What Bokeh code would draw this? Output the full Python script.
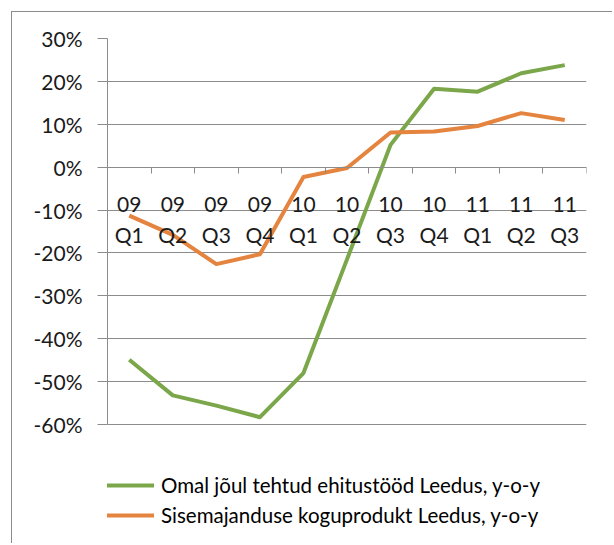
from bokeh.plotting import figure
from bokeh.models import Legend, LegendItem, FixedTicker, Range1d, CustomJSTickFormatter
from bokeh.embed import file_html
from bokeh.resources import INLINE

# ---- data ----
years = ["09", "09", "09", "09", "10", "10", "10", "10", "11", "11", "11"]
quarters = ["Q1", "Q2", "Q3", "Q4", "Q1", "Q2", "Q3", "Q4", "Q1", "Q2", "Q3"]
construction = [-44.9, -53.2, -55.6, -58.3, -48.0, -21.5, 5.2, 18.3, 17.6, 21.9, 23.8]
gdp = [-11.3, -15.8, -22.6, -20.3, -2.3, -0.2, 8.1, 8.3, 9.6, 12.6, 11.0]
y_ticks = [-60, -50, -40, -30, -20, -10, 0, 10, 20, 30]
series_names = ["Omal jõul tehtud ehitustööd Leedus, y-o-y",
                "Sisemajanduse koguprodukt Leedus, y-o-y"]

GREEN = "#7BA74A"
ORANGE = "#E4843F"
GRID = "#8C8C8C"
FONT = "Lato"

n = len(quarters)
xs = [i + 0.5 for i in range(n)]

# layout constants (canvas pixels)
W, H = 601, 532
TOP, LEFT, RIGHT = 26, 95, 27
AXIS_H = 386          # pixel height of the -60..30 value span
frame_h = H - TOP     # frame extends to the bottom so the legend is not clipped
y_lo, y_hi = y_ticks[0], y_ticks[-1]
y_start = y_lo - (frame_h - AXIS_H) / AXIS_H * (y_hi - y_lo)

p = figure(width=W, height=H,
           x_range=Range1d(0, n), y_range=Range1d(y_start, y_hi),
           output_backend="svg", toolbar_location=None,
           min_border_left=LEFT, min_border_right=RIGHT, min_border_top=TOP, min_border_bottom=0,
           margin=(11, 0, 0, 11),
           styles={"border-top": "1px solid #8C8C8C", "border-left": "1px solid #8C8C8C"})
p.outline_line_color = None
p.background_fill_color = "white"
p.border_fill_color = "white"

r1 = p.line(xs, construction, line_width=4, line_color=GREEN, line_join="round")
r2 = p.line(xs, gdp, line_width=4, line_color=ORANGE, line_join="round")

# y axis
p.yaxis.ticker = FixedTicker(ticks=y_ticks)
p.yaxis.bounds = (y_lo, y_hi)
p.yaxis.formatter = CustomJSTickFormatter(code="return tick.toFixed(0) + '%';")
p.yaxis.axis_line_color = GRID
p.yaxis.major_tick_line_color = GRID
p.yaxis.major_tick_out = 10
p.yaxis.major_tick_in = 0
p.yaxis.minor_tick_line_color = None
p.yaxis.major_label_standoff = 15
p.yaxis.major_label_text_font = FONT
p.yaxis.major_label_text_font_size = "21px"
p.yaxis.major_label_text_color = "#1a1a1a"

# x axis at zero
p.xaxis.fixed_location = 0
p.xaxis.ticker = FixedTicker(ticks=xs, minor_ticks=list(range(n + 1)))
p.xaxis.major_label_overrides = {x: f"{y}\n{q}" for x, y, q in zip(xs, years, quarters)}
p.xaxis.axis_line_color = GRID
p.xaxis.major_tick_line_color = None
p.xaxis.major_tick_out = 0
p.xaxis.major_tick_in = 0
p.xaxis.minor_tick_line_color = GRID
p.xaxis.minor_tick_out = 6
p.xaxis.minor_tick_in = 0
p.xaxis.major_label_standoff = 18
p.xaxis.major_label_text_font = FONT
p.xaxis.major_label_text_font_size = "21px"
p.xaxis.major_label_text_line_height = 1.25
p.xaxis.major_label_text_color = "#1a1a1a"

p.xgrid.visible = False
p.ygrid.ticker = FixedTicker(ticks=y_ticks)
p.ygrid.grid_line_color = GRID

legend = Legend(items=[LegendItem(label=series_names[0], renderers=[r1]),
                       LegendItem(label=series_names[1], renderers=[r2])],
                location=(-8, 17), orientation="vertical",
                glyph_width=55, glyph_height=20, label_height=20, spacing=6,
                padding=0, margin=0, border_line_color=None, background_fill_alpha=0,
                label_text_font=FONT, label_text_font_size="20.5px", label_standoff=7,
                label_text_color="black")
p.add_layout(legend, "center")

open("out.html", "w").write(file_html(p, INLINE))
